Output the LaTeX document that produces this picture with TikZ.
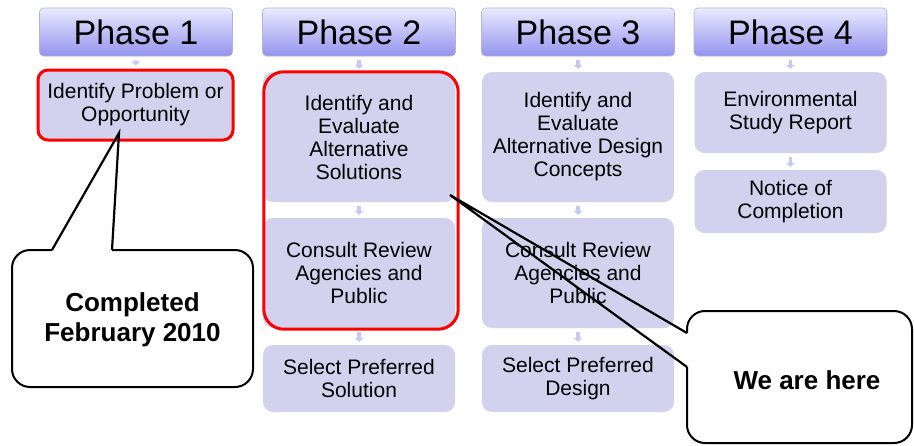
\documentclass[tikz,border=0pt]{standalone}
\usepackage{fontspec}
\setmainfont{Liberation Sans}
\usetikzlibrary{arrows.meta}

\definecolor{boxfill}{RGB}{210,210,238}
\definecolor{headtop}{RGB}{234,234,255}
\definecolor{headbot}{RGB}{148,148,238}
\definecolor{headline}{RGB}{178,178,218}
\definecolor{arrowfill}{RGB}{200,200,244}

\begin{document}
\begin{tikzpicture}[x=1pt, y=-1pt,
  phase/.style={rectangle, rounded corners=4pt, top color=headtop, bottom color=headbot, draw=headline, line width=0.6pt, minimum width=193pt, minimum height=48pt, font=\fontsize{34}{38}\selectfont},
  stepbox/.style={rectangle, rounded corners=10pt, fill=boxfill, minimum width=192pt, align=center, font=\fontsize{21}{23}\selectfont},
  done/.style={draw=red, line width=3pt},
  flow/.style={draw=arrowfill, line width=3.5pt, -{Triangle[width=9pt,length=4pt]}, shorten <=4pt, shorten >=3pt},
  callout/.style={draw=black, line width=2pt, rounded corners=18pt},
  pointer/.style={draw=black, line width=2.2pt},
  note/.style={font=\fontsize{26}{30}\selectfont\bfseries, align=center}]
\useasboundingbox (0,0) rectangle (914,445);

% headers
\node[phase] (h1) at (136,32) {Phase 1};
\node[phase] (h2) at (359,32) {Phase 2};
\node[phase] (h3) at (578,32) {Phase 3};
\node[phase] (h4) at (790.5,32) {Phase 4};

% steps
\node[stepbox, done, minimum width=195pt, minimum height=70pt] (b11) at (135.5,105) {Identify Problem or\\Opportunity};

\node[stepbox, minimum height=130pt] (b21) at (359,137) {Identify and\\Evaluate\\Alternative\\Solutions};
\node[stepbox, minimum height=110pt] (b22) at (359,273) {Consult Review\\Agencies and\\Public};
\node[stepbox, minimum height=67pt] (b23) at (359,378.5) {Select Preferred\\Solution};

\node[stepbox, minimum height=130pt] (b31) at (578,137) {Identify and\\Evaluate\\Alternative Design\\Concepts};
\node[stepbox, minimum height=110pt] (b32) at (578,273) {Consult Review\\Agencies and\\Public};
\node[stepbox, minimum height=67pt] (b33) at (578,378.5) {Select Preferred\\Design};

\node[stepbox, minimum height=81pt] (b41) at (790.5,112.5) {Environmental\\Study Report};
\node[stepbox, minimum height=63pt] (b42) at (790.5,201.5) {Notice of\\Completion};

\draw[done, rounded corners=20pt] ([xshift=1pt]b21.north west) rectangle ([xshift=3pt,yshift=-1pt]b22.south east);

\draw[flow] (h1) -- (b11);
\draw[flow] (h2) -- (b21);
\draw[flow] (b21) -- (b22);
\draw[flow] (b22) -- (b23);
\draw[flow] (h3) -- (b31);
\draw[flow] (b31) -- (b32);
\draw[flow] (b32) -- (b33);
\draw[flow] (h4) -- (b41);
\draw[flow] (b41) -- (b42);

% callouts
\coordinate (tipA) at (119,133);
\coordinate (baseAl) at (52,250);
\coordinate (baseAr) at (112,250);
\draw[callout] (baseAr) -- (253,250) -- (253,387) -- (12,387) -- (12,250) -- (baseAl);
\draw[pointer] (baseAl) -- (tipA) -- (baseAr);
\node[note] (cA) at (132.5,320) {Completed\\February 2010};

\coordinate (tipB) at (450,195);
\coordinate (baseBt) at (687,333);
\coordinate (baseBb) at (687,367);
\draw[callout] (baseBb) -- (687,443) -- (912,443) -- (912,311) -- (687,311) -- (baseBt);
\draw[pointer] (baseBt) -- (tipB) -- (baseBb);
\node[note] (cB) at (807,380) {We are here};
\end{tikzpicture}
\end{document}
